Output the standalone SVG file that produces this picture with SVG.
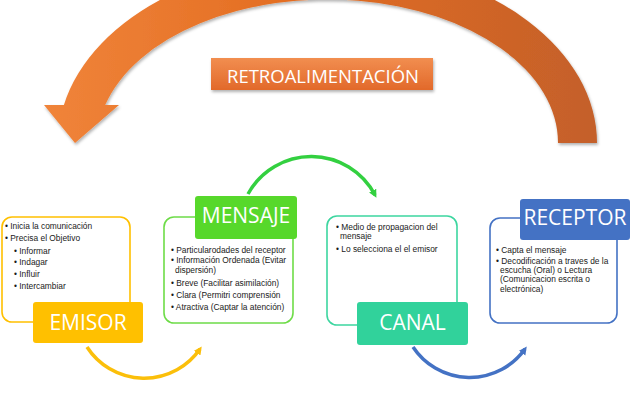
<svg xmlns="http://www.w3.org/2000/svg" width="633" height="401" viewBox="0 0 633 401">
<defs>
<linearGradient id="gArrow" x1="0" y1="0" x2="1" y2="0">
<stop offset="0" stop-color="#F0843A"/>
<stop offset="0.45" stop-color="#E36D22"/>
<stop offset="1" stop-color="#C4602A"/>
</linearGradient>
<linearGradient id="gRetro" x1="0" y1="0" x2="0" y2="1">
<stop offset="0" stop-color="#F28E50"/>
<stop offset="1" stop-color="#E2692A"/>
</linearGradient>
<filter id="sh" x="-10%" y="-10%" width="120%" height="130%">
<feDropShadow dx="1" dy="2" stdDeviation="1.5" flood-color="#000" flood-opacity="0.3"/>
</filter>
<marker id="mY" markerUnits="userSpaceOnUse" markerWidth="10" markerHeight="10" refX="5" refY="4" orient="auto"><path d="M0,0 L8,4 L0,8 z" fill="#FBBF0A"/></marker>
<marker id="mG" markerUnits="userSpaceOnUse" markerWidth="10" markerHeight="10" refX="5" refY="4" orient="auto"><path d="M0,0 L8,4 L0,8 z" fill="#33D040"/></marker>
<marker id="mB" markerUnits="userSpaceOnUse" markerWidth="10" markerHeight="10" refX="5" refY="4" orient="auto"><path d="M0,0 L8,4 L0,8 z" fill="#4472C4"/></marker>
</defs>
<style>
.box{fill:#fff;stroke-width:1.6}
.lbl{font-family:"Open Sans","Liberation Sans",sans-serif;font-size:21px;fill:#fff;text-anchor:middle}
.t{font-family:"Liberation Sans",Arial,sans-serif;font-size:8.4px;fill:#1a1a1a}
.arc{fill:none;stroke-width:3.5}
</style>
<rect width="633" height="401" fill="#fff"/>

<g id="retroalimentacion">
<path d="M597 143 A269.5 182.5 0 0 0 63.9 105 L44 105 L75 143 L119 105 L105.2 105 A230.5 143.5 0 0 1 558 143 Z" fill="url(#gArrow)" filter="url(#sh)"/>
<rect x="211" y="58" width="222" height="32" fill="url(#gRetro)" filter="url(#sh)"/>
<text x="323" y="83" font-family="'Open Sans','Liberation Sans',sans-serif" font-size="17.5" fill="#fff" text-anchor="middle" textLength="192" lengthAdjust="spacingAndGlyphs">RETROALIMENTACIÓN</text>
</g>

<g id="connectors">
<path class="arc" d="M87 347 A68 68 0 0 0 200 349" stroke="#FBBF0A" marker-end="url(#mY)"/>
<path class="arc" d="M248 194 A72 72 0 0 1 375 195" stroke="#33D040" stroke-width="3" marker-end="url(#mG)"/>
<path class="arc" d="M413 347 A68 68 0 0 0 525 349" stroke="#4472C4" marker-end="url(#mB)"/>
</g>

<g id="emisor">
<rect class="box" x="2" y="217" width="128" height="105" rx="10" stroke="#FFC000"/>
<text class="t" x="5" y="229">• Inicia la comunicación</text>
<text class="t" x="5" y="241">• Precisa el Objetivo</text>
<text class="t" x="14" y="254">• Informar</text>
<text class="t" x="14" y="265">• Indagar</text>
<text class="t" x="14" y="277">• Influir</text>
<text class="t" x="14" y="289">• Intercambiar</text>
<rect x="33" y="302" width="110" height="41" rx="3" fill="#FFC000"/>
<text class="lbl" x="88" y="330">EMISOR</text>
</g>

<g id="mensaje">
<rect class="box" x="164" y="217" width="129" height="106" rx="10" stroke="#6EDC48"/>
<text class="t" x="171" y="253">• Particularodades del receptor</text>
<text class="t" x="171" y="263">• Información Ordenada (Evitar</text>
<text class="t" x="175" y="273">dispersión)</text>
<text class="t" x="171" y="286">• Breve (Facilitar asimilación)</text>
<text class="t" x="171" y="298">• Clara (Permitri comprensión</text>
<text class="t" x="171" y="310">• Atractiva (Captar la atención)</text>
<rect x="195" y="196" width="102" height="43" rx="3" fill="#57D82B"/>
<text class="lbl" x="246" y="223">MENSAJE</text>
</g>

<g id="canal">
<rect class="box" x="327" y="216" width="130" height="109" rx="10" stroke="#3DD6A0"/>
<text class="t" x="336" y="230">• Medio de propagacion del</text>
<text class="t" x="340" y="239">mensaje</text>
<text class="t" x="336" y="252">• Lo selecciona el el emisor</text>
<rect x="357" y="302" width="111" height="43" rx="3" fill="#31D29B"/>
<text class="lbl" x="412.5" y="330">CANAL</text>
</g>

<g id="receptor">
<rect class="box" x="490" y="218" width="127" height="105" rx="10" stroke="#4472C4"/>
<text class="t" x="496" y="253">• Capta el mensaje</text>
<text class="t" x="496" y="264">• Decodificación a traves de la</text>
<text class="t" x="500" y="273">escucha (Oral) o Lectura</text>
<text class="t" x="500" y="282">(Comunicacion escrita o</text>
<text class="t" x="500" y="292">electrónica)</text>
<rect x="520" y="199" width="110" height="41" rx="3" fill="#4472C4"/>
<text class="lbl" x="575" y="225">RECEPTOR</text>
</g>
</svg>
